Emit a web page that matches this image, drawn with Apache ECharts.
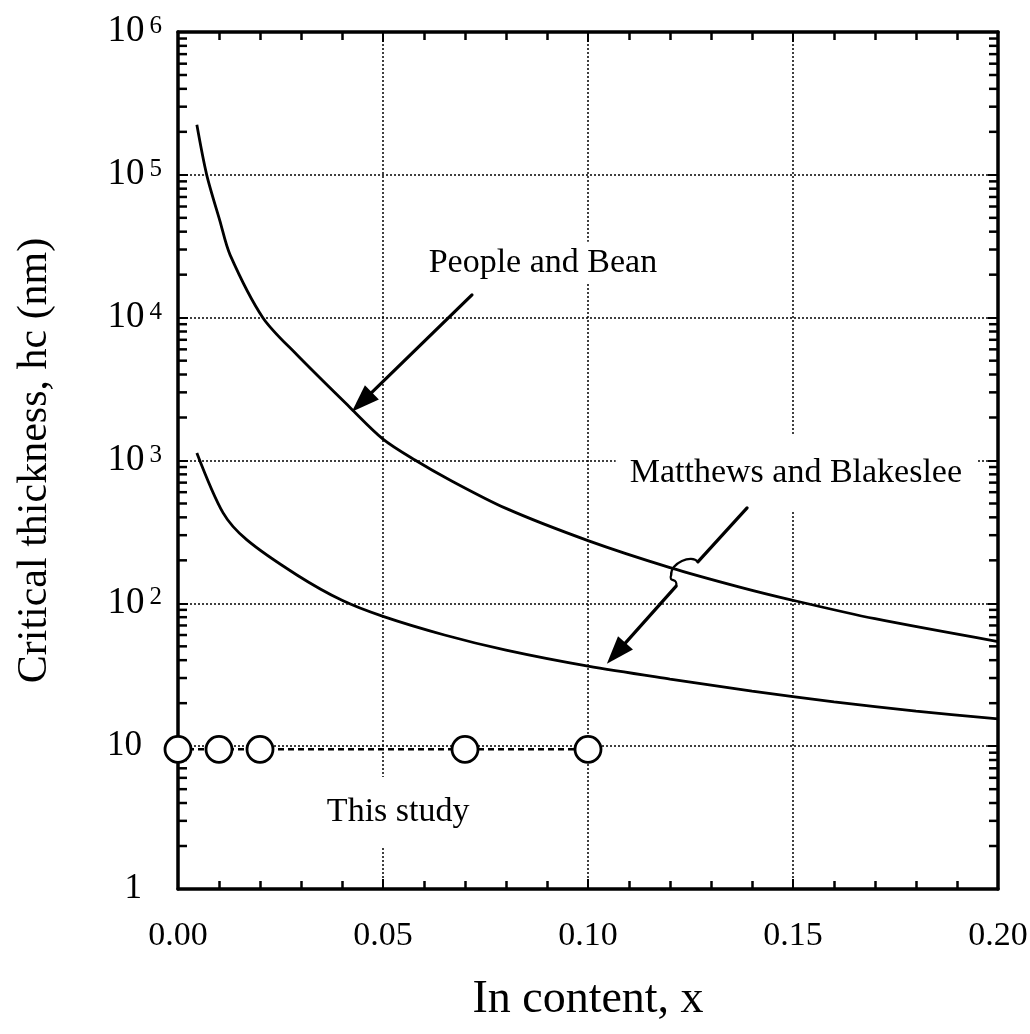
<!DOCTYPE html>
<html>
<head>
<meta charset="utf-8">
<script src="https://cdn.jsdelivr.net/npm/echarts@6/dist/echarts.min.js"></script>
<style>
  html, body { margin: 0; padding: 0; background: #fff; }
  #main { width: 1030px; height: 1034px; }
</style>
</head>
<body>
<div id="main"></div>
<script>
// Critical thickness curves, [In content x, thickness in nm]
const peopleBean = [
  [0.0046, 223900], [0.007, 100000], [0.0102, 47860], [0.0127, 27540],
  [0.0207, 10000], [0.029, 5495], [0.042, 2344], [0.05, 1413],
  [0.058, 1000], [0.0663, 731], [0.08, 462], [0.10, 275],
  [0.12, 178], [0.137, 130], [0.15, 105], [0.17, 78], [0.2, 54]
];
const matthewsBlakeslee = [
  [0.0046, 1130], [0.011, 430], [0.0168, 278], [0.029, 158],
  [0.04, 105], [0.05, 81], [0.065, 60], [0.08, 47], [0.10, 36.3],
  [0.12, 29.5], [0.14, 24.3], [0.16, 20.4], [0.18, 17.6], [0.2, 15.5]
];
const thisStudy = [[0, 9.5], [0.01, 9.5], [0.02, 9.5], [0.07, 9.5], [0.10, 9.5]];

// Text labels and their anchors (data space)
const labelTexts = ['People and Bean', 'Matthews and Blakeslee', 'This study'];
const labelAnchors = [[0.089, 24200], [0.1507, 819], [0.0537, 3.46]];

// Arrow paths (data space): People and Bean, Matthews and Blakeslee
const peopleArrow = [[0.0717, 14450], [0.0424, 2190]];
const matthewsArrow = [[0.1388, 466], [0.1268, 195], [0.1215, 132], [0.1046, 37.7]];

const SERIF = '"Liberation Serif", "Times New Roman", serif';

// log-axis minor tick values (2..9 in each decade)
const yMinor = [];
for (let k = 0; k < 6; k++) {
  for (let m = 2; m <= 9; m++) yMinor.push(m * Math.pow(10, k));
}

const chart = echarts.init(document.getElementById('main'));

const frameLine = { show: true, onZero: false, lineStyle: { color: '#000', width: 3.5 } };
const majorTick = { show: true, inside: true, length: 10, lineStyle: { color: '#000', width: 2 } };
const minorTickX = { show: true, splitNumber: 5, length: 8, lineStyle: { color: '#000', width: 2.5 } };
const dotted = { show: true, lineStyle: { color: '#000', width: 1.5, type: [2, 2] } };

chart.setOption({
  animation: false,
  backgroundColor: '#fff',
  grid: { left: 178, right: 32, top: 32, bottom: 145, outerBoundsMode: 'none', containLabel: false },
  xAxis: [{
    type: 'value', min: 0, max: 0.2, interval: 0.05, position: 'bottom',
    name: 'In content, x', nameLocation: 'middle', nameGap: 88,
    nameTextStyle: { fontFamily: SERIF, fontSize: 46, color: '#000' },
    axisLine: frameLine, axisTick: majorTick, minorTick: minorTickX,
    splitLine: dotted,
    axisLabel: { formatter: v => v.toFixed(2), fontFamily: SERIF, fontSize: 34, color: '#000', margin: 30 }
  }, {
    type: 'value', min: 0, max: 0.2, interval: 0.05, position: 'top',
    axisLine: frameLine, axisTick: majorTick, minorTick: minorTickX,
    splitLine: { show: false }, axisLabel: { show: false }
  }],
  yAxis: [{
    type: 'log', logBase: 10, min: 1, max: 1000000, interval: 1, position: 'left',
    name: 'Critical thickness, hc (nm)', nameLocation: 'middle', nameGap: 122,
    nameTextStyle: { fontFamily: SERIF, fontSize: 42, color: '#000' },
    axisLine: frameLine, axisTick: majorTick, splitLine: dotted,
    axisLabel: {
      margin: 16,
      formatter: v => {
        const e = Math.round(Math.log10(v));
        if (e === 0) return '{p|1}';
        if (e === 1) return '{p|10}';
        return '{b|10}{s|' + e + '}';
      },
      rich: {
        b: { fontFamily: SERIF, fontSize: 37, color: '#000', lineHeight: 36, verticalAlign: 'bottom' },
        s: { fontFamily: SERIF, fontSize: 25, color: '#000', lineHeight: 25, padding: [0, 0, 22, 5], verticalAlign: 'top' },
        p: { fontFamily: SERIF, fontSize: 35, color: '#000', lineHeight: 36, padding: [0, 20, 0, 0] }
      }
    }
  }, {
    type: 'log', logBase: 10, min: 1, max: 1000000, interval: 1, position: 'right',
    axisLine: frameLine, axisTick: majorTick, splitLine: { show: false }, axisLabel: { show: false }
  }],
  series: [{
    type: 'line', name: 'People and Bean', data: peopleBean, smooth: 0.3,
    showSymbol: false, lineStyle: { color: '#000', width: 2.8 }, z: 4
  }, {
    type: 'line', name: 'Matthews and Blakeslee', data: matthewsBlakeslee, smooth: 0.3,
    showSymbol: false, lineStyle: { color: '#000', width: 2.8 }, z: 4
  }, {
    type: 'line', name: 'This study', data: thisStudy,
    symbol: 'circle', symbolSize: 26, showSymbol: true,
    lineStyle: { color: '#000', width: 2.5, type: [6, 4] },
    itemStyle: { color: '#fff', borderColor: '#000', borderWidth: 2.8 }, z: 5
  }, {
    type: 'custom', silent: true, z: 3,
    data: yMinor.map(v => [0, v]),
    renderItem: (params, api) => {
      const v = api.value(1);
      const l = api.coord([0, v]);
      const r = api.coord([0.2, v]);
      const st = { stroke: '#000', lineWidth: 2.5 };
      return {
        type: 'group', children: [
          { type: 'line', shape: { x1: l[0], y1: l[1], x2: l[0] + 9, y2: l[1] }, style: st },
          { type: 'line', shape: { x1: r[0] - 9, y1: r[1], x2: r[0], y2: r[1] }, style: st }
        ]
      };
    }
  }]
});

// annotations: labels with white boxes and arrows
const px = p => chart.convertToPixel({ xAxisIndex: 0, yAxisIndex: 0 }, p);
const labelPads = [[4, 6], [22, 14, 18, 14], [18, 6]];
const graphics = [];
labelTexts.forEach((t, i) => {
  const p = px(labelAnchors[i]);
  graphics.push({
    type: 'text', x: p[0], y: p[1], z: 100,
    style: {
      text: t, font: '34px ' + SERIF, fill: '#000', align: 'center', verticalAlign: 'middle',
      backgroundColor: '#fff', padding: labelPads[i]
    }
  });
});

function arrowHead(from, tip) {
  const dx = tip[0] - from[0], dy = tip[1] - from[1];
  const len = Math.hypot(dx, dy);
  const ux = dx / len, uy = dy / len;
  const L = 28, W = 10;
  const bx = tip[0] - ux * L, by = tip[1] - uy * L;
  return {
    base: [bx + ux * 4, by + uy * 4],
    el: {
      type: 'polygon', z: 101,
      shape: { points: [tip, [bx - uy * W, by + ux * W], [bx + uy * W, by - ux * W]] },
      style: { fill: '#000' }
    }
  };
}
const lineStyle = { stroke: '#000', lineWidth: 3.2, fill: null, lineCap: 'round' };

// People and Bean arrow
{
  const a = px(peopleArrow[0]), b = px(peopleArrow[1]);
  const h = arrowHead(a, b);
  graphics.push({ type: 'polyline', z: 101, shape: { points: [a, h.base] }, style: lineStyle });
  graphics.push(h.el);
}
// Matthews and Blakeslee arrow, hopping over the upper curve
{
  const s = px(matthewsArrow[0]), hin = px(matthewsArrow[1]);
  const hout = px(matthewsArrow[2]), tip = px(matthewsArrow[3]);
  const mid = [hout[0] - 5, (hin[1] + hout[1]) / 2 + 1];
  graphics.push({ type: 'polyline', z: 101, shape: { points: [s, hin] }, style: lineStyle });
  graphics.push({
    type: 'bezierCurve', z: 101,
    shape: { x1: hin[0], y1: hin[1], cpx1: hin[0] - 6, cpy1: hin[1] - 8, cpx2: mid[0] - 1, cpy2: mid[1] - 12, x2: mid[0], y2: mid[1] },
    style: Object.assign({}, lineStyle, { lineWidth: 2.2 })
  });
  graphics.push({
    type: 'bezierCurve', z: 101,
    shape: { x1: mid[0], y1: mid[1], cpx1: mid[0] - 3, cpy1: mid[1] + 8, cpx2: hout[0] + 2, cpy2: hout[1] - 9, x2: hout[0], y2: hout[1] },
    style: Object.assign({}, lineStyle, { lineWidth: 2.2 })
  });
  const h = arrowHead(hout, tip);
  graphics.push({ type: 'polyline', z: 101, shape: { points: [hout, h.base] }, style: lineStyle });
  graphics.push(h.el);
}
chart.setOption({ graphic: graphics });
</script>
</body>
</html>
